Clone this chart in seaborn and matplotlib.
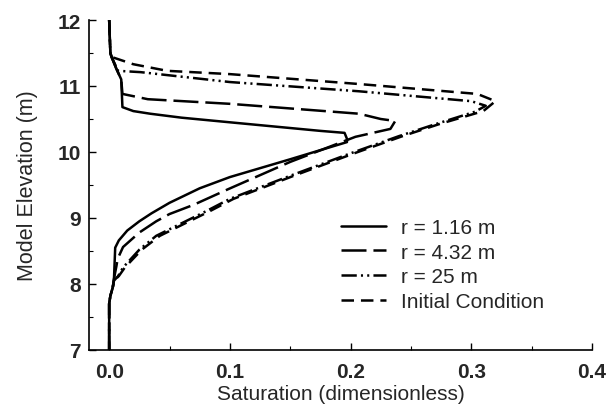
import matplotlib
matplotlib.use("Agg")
import matplotlib.pyplot as plt
import seaborn as sns
import pandas as pd
from matplotlib.ticker import MultipleLocator

# ---- data ----
sat_r116 = [0.0, 0.001, 0.002, 0.006, 0.010, 0.011, 0.020, 0.034, 0.060, 0.100, 0.175, 0.195, 0.197,
            0.197, 0.150, 0.100, 0.075, 0.050, 0.035, 0.025, 0.015, 0.008, 0.005,
            0.004, 0.003, 0.001, 0.0, 0.0]
elev_r116 = [12.0, 11.5, 11.44, 11.26, 11.1, 10.68, 10.62, 10.58, 10.52, 10.45, 10.32, 10.29, 10.2,
             10.15, 9.89, 9.62, 9.45, 9.23, 9.07, 8.95, 8.81, 8.66, 8.55,
             8.08, 7.95, 7.82, 7.7, 7.0]

sat_r432 = [0.0, 0.001, 0.002, 0.006, 0.010, 0.011, 0.032, 0.100, 0.207, 0.225, 0.237,
            0.233, 0.204, 0.150, 0.099, 0.070, 0.050, 0.039, 0.025, 0.0115, 0.007, 0.006,
            0.004, 0.003, 0.001, 0.0, 0.0]
elev_r432 = [12.0, 11.5, 11.44, 11.26, 11.1, 10.88, 10.8, 10.73, 10.58, 10.5, 10.47,
             10.35, 10.23, 9.85, 9.44, 9.20, 9.06, 8.95, 8.78, 8.56, 8.38, 8.27,
             8.08, 7.95, 7.82, 7.7, 7.0]

sat_r25 = [0.0, 0.001, 0.002, 0.0074, 0.026, 0.100, 0.207, 0.300, 0.312,
           0.303, 0.270, 0.240, 0.200, 0.150, 0.100, 0.080, 0.060, 0.039, 0.025, 0.0115, 0.0074,
           0.004, 0.003, 0.001, 0.0, 0.0]
elev_r25 = [12.0, 11.5, 11.44, 11.23, 11.21, 11.06, 10.92, 10.77, 10.70,
            10.61, 10.42, 10.24, 9.98, 9.64, 9.29, 9.10, 8.92, 8.73, 8.52, 8.25, 8.12,
            8.05, 7.95, 7.82, 7.7, 7.0]

sat_init = [0.0, 0.001, 0.002, 0.020, 0.048, 0.100, 0.207, 0.305, 0.320,
            0.310, 0.273, 0.243, 0.203, 0.153, 0.103, 0.083, 0.063, 0.042, 0.027, 0.013, 0.008,
            0.004, 0.003, 0.001, 0.0, 0.0]
elev_init = [12.0, 11.5, 11.44, 11.33, 11.23, 11.18, 11.03, 10.88, 10.77,
             10.62, 10.42, 10.24, 9.98, 9.64, 9.29, 9.10, 8.92, 8.73, 8.52, 8.25, 8.12,
             8.05, 7.95, 7.82, 7.7, 7.0]

labels = ["r = 1.16 m", "r = 4.32 m", "r = 25 m", "Initial Condition"]
x_ticks = [0.0, 0.1, 0.2, 0.3, 0.4]
y_ticks = [7, 8, 9, 10, 11, 12]

sns.set_theme(style="ticks")
plt.rcParams['font.family'] = ['Liberation Sans', 'DejaVu Sans']
plt.rcParams['lines.scale_dashes'] = False

fig = plt.figure(figsize=(6.08, 4.06), dpi=100)
ax = fig.add_axes([89/608, 55/406, 503/608, 330/406])

series = [(sat_r116, elev_r116), (sat_r432, elev_r432), (sat_r25, elev_r25), (sat_init, elev_init)]
dash_styles = [None, (18, 5), (11, 3, 1.5, 3, 1.5, 3), (9, 5)]
for (sx, sy), lab, ds in zip(series, labels, dash_styles):
    df = pd.DataFrame({"sat": sx, "elev": sy})
    sns.lineplot(data=df, x="sat", y="elev", sort=False, estimator=None,
                 color="black", linewidth=1.8, ax=ax, label=lab)
    if ds is not None:
        ax.lines[-1].set_dashes(ds)

ax.set_xlim(-0.0167, 0.4)
ax.set_ylim(7, 12)
ax.set_xticks(x_ticks)
ax.set_xticklabels([f"{v:.1f}" for v in x_ticks])
ax.set_yticks(y_ticks)
ax.xaxis.set_minor_locator(MultipleLocator(0.05))
ax.yaxis.set_minor_locator(MultipleLocator(0.5))
ax.tick_params(axis='both', which='both', direction='in', color='black')
ax.tick_params(axis='both', which='major', length=5, width=1.0, labelsize=15)
ax.tick_params(axis='both', which='minor', length=3, width=0.8)
ax.tick_params(axis='x', which='major', pad=9)
ax.tick_params(axis='y', which='major', pad=6)
for t in ax.get_xticklabels() + ax.get_yticklabels():
    t.set_fontweight('bold')

sns.despine(ax=ax)
for s in ["left", "bottom"]:
    ax.spines[s].set_linewidth(1.2)
    ax.spines[s].set_color("black")

ax.set_xlabel("Saturation (dimensionless)", fontsize=15, labelpad=2)
ax.set_ylabel("Model Elevation (m)", fontsize=15.5, labelpad=14)

leg = ax.legend(loc="upper left", bbox_to_anchor=(0.50, 0.40), frameon=False,
                fontsize=15, handlelength=2.2, handletextpad=0.7, labelspacing=0.27,
                borderaxespad=0, borderpad=0)
for h in leg.get_lines():
    h.set_linewidth(1.8)

fig.savefig("out.png", dpi=100)
